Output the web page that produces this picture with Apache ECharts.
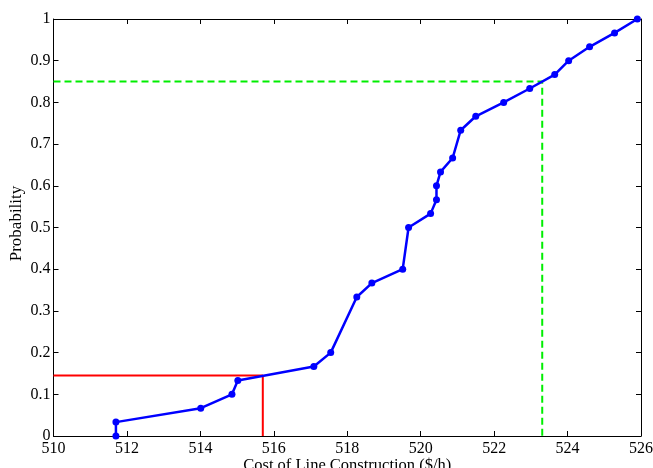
<!DOCTYPE html>
<html>
<head>
<meta charset="utf-8">
<script src="https://cdn.jsdelivr.net/npm/echarts@6/dist/echarts.min.js"></script>
<style>
  html, body { margin: 0; padding: 0; background: #fff; }
  #chart { width: 653px; height: 468px; }
</style>
</head>
<body>
<div id="chart"></div>
<script>
// Empirical distribution of line construction cost
const costValues = [511.70, 511.70, 514.01, 514.86, 515.02, 517.09, 517.55, 518.26, 518.67,
  519.51, 519.67, 520.27, 520.43, 520.43, 520.54, 520.87, 521.09, 521.50, 522.26,
  522.97, 523.65, 524.03, 524.60, 525.28, 525.90];
const probValues = [0, 0.0333, 0.0667, 0.1, 0.1333, 0.1667, 0.2, 0.3333, 0.3667,
  0.4, 0.5, 0.5333, 0.5667, 0.6, 0.6333, 0.6667, 0.7333, 0.7667, 0.8,
  0.8333, 0.8667, 0.9, 0.9333, 0.9667, 1.0];

// Reference guides: lower (red) and upper (green) quantile readings
const lowerGuide = { cost: 515.70, prob: 0.145 };
const upperGuide = { cost: 523.31, prob: 0.85 };

const xTicks = { min: 510, max: 526, step: 2 };
const yTicks = { min: 0, max: 1, step: 0.1 };

const fontFamily = '"Liberation Serif", "Times New Roman", serif';

const chart = echarts.init(document.getElementById('chart'), null, { renderer: 'canvas' });

const axisCommon = {
  axisLine: { show: true, onZero: false, lineStyle: { color: '#000', width: 1 } },
  axisTick: { show: true, inside: true, length: 5, lineStyle: { color: '#000', width: 1 } },
  splitLine: { show: false }
};

chart.setOption({
  animation: false,
  backgroundColor: '#fff',
  grid: {
    left: 53.5, right: 12, top: 19, bottom: 32,
    containLabel: false, outerBoundsMode: 'none'
  },
  xAxis: [
    Object.assign({}, axisCommon, {
      type: 'value', position: 'bottom',
      min: xTicks.min, max: xTicks.max, interval: xTicks.step,
      name: 'Cost of Line Construction ($/h)',
      nameLocation: 'middle', nameGap: 21, nameMoveOverlap: false,
      nameTextStyle: { fontFamily, fontSize: 16.5, color: '#000' },
      axisLabel: { fontFamily, fontSize: 16, color: '#000', margin: 5 }
    }),
    Object.assign({}, axisCommon, {
      type: 'value', position: 'top',
      min: xTicks.min, max: xTicks.max, interval: xTicks.step,
      axisLabel: { show: false }
    })
  ],
  yAxis: [
    Object.assign({}, axisCommon, {
      type: 'value', position: 'left',
      min: yTicks.min, max: yTicks.max, interval: yTicks.step,
      name: 'Probability',
      nameLocation: 'middle', nameGap: 28, nameRotate: 90, nameMoveOverlap: false,
      nameTextStyle: { fontFamily, fontSize: 17, color: '#000', padding: [0, 0, 0, 8] },
      axisLabel: {
        fontFamily, fontSize: 16, color: '#000', margin: 3,
        formatter: v => (Math.abs(v - 1) < 1e-9 ? '1' : (v === 0 ? '0' : v.toFixed(1)))
      }
    }),
    Object.assign({}, axisCommon, {
      type: 'value', position: 'right',
      min: yTicks.min, max: yTicks.max, interval: yTicks.step,
      axisLabel: { show: false }
    })
  ],
  series: [
    {
      type: 'line',
      data: [[xTicks.min, lowerGuide.prob], [lowerGuide.cost, lowerGuide.prob], [lowerGuide.cost, 0]],
      symbol: 'none',
      lineStyle: { color: '#ff0000', width: 2 },
      z: 2
    },
    {
      type: 'line',
      data: [[xTicks.min, upperGuide.prob], [upperGuide.cost, upperGuide.prob], [upperGuide.cost, 0]],
      symbol: 'none',
      lineStyle: { color: '#00ee00', width: 2, type: [7, 4] },
      z: 2
    },
    {
      type: 'line',
      data: costValues.map((c, i) => [c, probValues[i]]),
      symbol: 'circle',
      symbolSize: 7,
      itemStyle: { color: '#0000ff' },
      lineStyle: { color: '#0000ff', width: 2.5 },
      clip: false,
      z: 3
    }
  ]
});
</script>
</body>
</html>
